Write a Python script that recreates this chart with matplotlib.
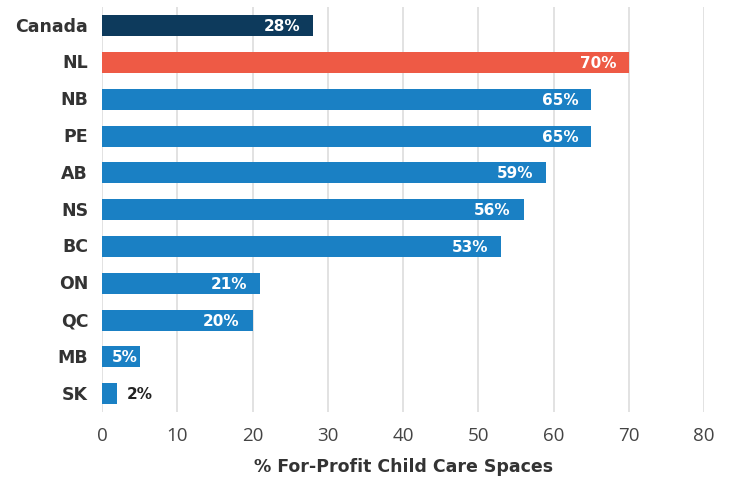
import matplotlib.pyplot as plt

provinces = ['Canada', 'NL', 'NB', 'PE', 'AB', 'NS', 'BC', 'ON', 'QC', 'MB', 'SK']
pct = [28, 70, 65, 65, 59, 56, 53, 21, 20, 5, 2]
bar_colors = ['#0d3a5c', '#ee5a45'] + ['#1a80c4'] * 9

plt.rcParams['font.family'] = ['DejaVu Sans']

fig = plt.figure(figsize=(7.29, 4.81), dpi=100)
ax = fig.add_axes([0.14, 0.141, 0.826, 0.842])

ypos = list(range(len(provinces)))
ax.barh(ypos, pct, height=0.57, color=bar_colors, zorder=2)

# etiquetes de valor
for y, v in zip(ypos, pct):
    if v >= 5:
        pad = 1.7 if v > 10 else 0.3
        ax.text(v - pad, y, f'{v}%', color='white', weight='bold', fontsize=11,
                ha='right', va='center', zorder=3)
    else:
        ax.text(v + 1.3, y, f'{v}%', color='#222222', weight='bold', fontsize=11,
                ha='left', va='center', zorder=3)

ax.set_xlim(0, 80)
ax.set_ylim(10.5, -0.5)
ax.set_xticks(range(0, 81, 10))
ax.set_xticklabels([str(t) for t in range(0, 81, 10)], family='Open Sans')
ax.set_yticks(ypos)
ax.set_yticklabels(provinces, fontsize=12.5, weight='bold', color='#333333',
                   va='center')
ax.tick_params(axis='x', labelsize=13.5, labelcolor='#444444', length=0, pad=10)
ax.tick_params(axis='y', length=0, pad=10)
ax.grid(axis='x', color='#dddddd', linewidth=1.2, zorder=0)
for s in ax.spines.values():
    s.set_visible(False)
ax.set_xlabel('% For-Profit Child Care Spaces', fontsize=12.5, weight='bold',
              color='#333333', labelpad=9)

fig.savefig('out.png', dpi=100)
